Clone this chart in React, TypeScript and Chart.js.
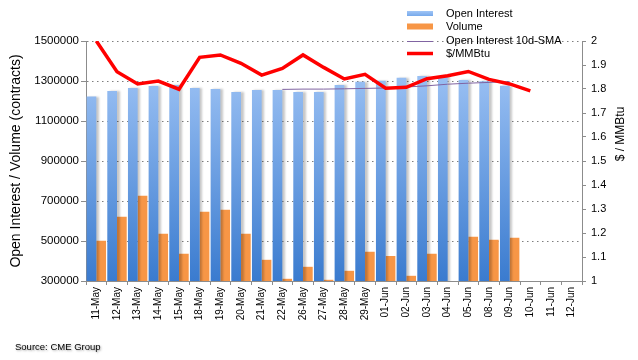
import React, { useEffect, useRef } from "react";
import { Chart, registerables } from "chart.js";

Chart.register(...registerables);

const categories = [
  "11-May", "12-May", "13-May", "14-May", "15-May", "18-May", "19-May", "20-May",
  "21-May", "22-May", "26-May", "27-May", "28-May", "29-May", "01-Jun", "02-Jun",
  "03-Jun", "04-Jun", "05-Jun", "08-Jun", "09-Jun", "10-Jun", "11-Jun", "12-Jun",
];

const openInterest = [
  1222000, 1250000, 1265000, 1275000, 1280000, 1265000, 1260000, 1245000,
  1255000, 1255000, 1245000, 1245000, 1280000, 1296000, 1301000, 1316000,
  1325000, 1325000, 1305000, 1299000, 1276000, null, null, null,
];

const volume = [
  501000, 621000, 726000, 536000, 436000, 646000, 656000, 536000,
  406000, 311000, 371000, 306000, 351000, 446000, 425000, 326000,
  436000, null, 521000, 506000, 516000, null, null, null,
];

const openInterestSma10 = [
  null, null, null, null, null, null, null, null,
  null, 1258000, 1259500, 1259500, 1261000, 1263000, 1265000, 1270000,
  1276000, 1284000, 1289000, 1293000, 1296500, null, null, null,
];

const pricePerMMBtu = [
  2.0, 1.872, 1.821, 1.833, 1.799, 1.932, 1.942, 1.907,
  1.858, 1.886, 1.942, 1.89, 1.842, 1.861, 1.803, 1.807,
  1.843, 1.855, 1.873, 1.84, 1.821, 1.792, null, null,
];

const leftMin = 300000;
const leftMax = 1500000;
const leftStep = 200000;
const rightMin = 1;
const rightMax = 2;
const rightStep = 0.1;

const legendLabels = ["Open Interest", "Volume", "Open Interest 10d-SMA", "$/MMBtu"];
const leftTitle = "Open Interest / Volume (contracts)";
const rightTitle = "$ / MMBtu";
const sourceText = "Source: CME Group";

const FONT = "'Liberation Sans', Arial, Helvetica, sans-serif";
const BLUE_TOP = "#a9cbf9";
const BLUE_BOTTOM = "#3a7bcf";
const ORANGE = "#f79646";
const RED = "#ff0000";
const PURPLE = "#8064a2";
const AXIS_GRAY = "#8c8c8c";

let gradCache: { key: string; grad: CanvasGradient } | null = null;
function blueGradient(chart: any) {
  const area = chart.chartArea;
  if (!area) return "#7fb0ee";
  const key = `${area.top}-${area.bottom}`;
  if (gradCache && gradCache.key === key) return gradCache.grad;
  const g = chart.ctx.createLinearGradient(0, area.top, 0, area.bottom);
  g.addColorStop(0, BLUE_TOP);
  g.addColorStop(1, BLUE_BOTTOM);
  gradCache = { key, grad: g };
  return g;
}

const dottedGridPlugin = {
  id: "dottedGrid",
  beforeDatasetsDraw(chart: any) {
    const ctx = chart.ctx as CanvasRenderingContext2D;
    const scale = chart.scales.y;
    const area = chart.chartArea;
    ctx.save();
    ctx.strokeStyle = "#7f7f7f";
    ctx.lineWidth = 1;
    ctx.setLineDash([1.5, 3.5]);
    scale.ticks.forEach((t: any) => {
      const y = Math.round(scale.getPixelForValue(t.value)) + 0.5;
      if (y > area.bottom - 1) return;
      ctx.beginPath();
      ctx.moveTo(area.left + 1, y);
      ctx.lineTo(area.right, y);
      ctx.stroke();
    });
    ctx.restore();
  },
};

const shadowPlugin = {
  id: "barShadow",
  beforeDatasetDraw(chart: any, args: any) {
    if (args.meta.label === legendLabels[0]) {
      const ctx = chart.ctx;
      ctx.save();
      ctx.shadowColor = "rgba(0,0,0,0.22)";
      ctx.shadowOffsetX = 2.5;
      ctx.shadowOffsetY = 0;
      ctx.shadowBlur = 2;
    }
  },
  afterDatasetDraw(chart: any, args: any) {
    if (args.meta.label === legendLabels[0]) {
      chart.ctx.restore();
    }
  },
};

const decorPlugin = {
  id: "decor",
  afterDraw(chart: any) {
    const ctx = chart.ctx as CanvasRenderingContext2D;
    ctx.save();
    // Legend
    const sx = 407;
    const sw = 26;
    const tx = 446;
    const rows = [13.5, 26.5, 40.5, 54];
    const lg = ctx.createLinearGradient(0, 10, 0, 17);
    lg.addColorStop(0, "#a9cbf9");
    lg.addColorStop(1, "#6ea3e8");
    ctx.fillStyle = lg;
    ctx.fillRect(sx, rows[0] - 2.5, sw, 5);
    ctx.fillStyle = ORANGE;
    ctx.fillRect(sx, rows[1] - 3, sw, 6);
    ctx.strokeStyle = PURPLE;
    ctx.lineWidth = 1;
    ctx.beginPath();
    ctx.moveTo(sx, rows[2] + 1);
    ctx.lineTo(sx + sw, rows[2] + 1);
    ctx.stroke();
    ctx.strokeStyle = RED;
    ctx.lineWidth = 3.5;
    ctx.beginPath();
    ctx.moveTo(sx, rows[3] - 0.5);
    ctx.lineTo(sx + sw, rows[3] - 0.5);
    ctx.stroke();
    ctx.fillStyle = "#000";
    ctx.font = `11px ${FONT}`;
    ctx.textAlign = "left";
    ctx.textBaseline = "middle";
    legendLabels.forEach((t, i) => ctx.fillText(t, tx, rows[i]));

    // Right axis title (reads bottom to top)
    ctx.save();
    ctx.translate(621, 134);
    ctx.rotate(-Math.PI / 2);
    ctx.font = `12px ${FONT}`;
    ctx.textAlign = "center";
    ctx.textBaseline = "middle";
    ctx.fillStyle = "#000";
    ctx.fillText(rightTitle, 0, 0);
    ctx.restore();

    // Source
    ctx.font = `9.5px ${FONT}`;
    ctx.textAlign = "left";
    ctx.textBaseline = "middle";
    ctx.shadowColor = "rgba(0,0,0,0.35)";
    ctx.shadowBlur = 2;
    ctx.shadowOffsetX = 1;
    ctx.shadowOffsetY = 1;
    ctx.fillStyle = "#000";
    ctx.fillText(sourceText, 15, 347);
    ctx.restore();
  },
};

export default function App() {
  const canvasRef = useRef<HTMLCanvasElement | null>(null);

  useEffect(() => {
    const canvas = canvasRef.current;
    if (!canvas) return;
    const chart = new Chart(canvas, {
      type: "bar",
      data: {
        labels: categories,
        datasets: [
          {
            type: "line",
            label: legendLabels[3],
            data: pricePerMMBtu,
            yAxisID: "y1",
            borderColor: RED,
            backgroundColor: RED,
            borderWidth: 3.5,
            pointRadius: 0,
            tension: 0,
            order: 0,
          } as any,
          {
            type: "line",
            label: legendLabels[2],
            data: openInterestSma10,
            yAxisID: "y",
            borderColor: PURPLE,
            backgroundColor: PURPLE,
            borderWidth: 1,
            pointRadius: 0,
            tension: 0,
            order: 0,
          } as any,
          {
            type: "bar",
            label: legendLabels[0],
            data: openInterest,
            yAxisID: "y",
            backgroundColor: (c: any) => blueGradient(c.chart),
            borderWidth: 0,
            categoryPercentage: 0.94,
            barPercentage: 1,
            order: 1,
          } as any,
          {
            type: "bar",
            label: legendLabels[1],
            data: volume,
            yAxisID: "y",
            backgroundColor: ORANGE,
            borderWidth: 0,
            categoryPercentage: 0.94,
            barPercentage: 1,
            order: 1,
          } as any,
        ],
      },
      options: {
        responsive: false,
        animation: false,
        devicePixelRatio: 1,
        layout: { padding: { top: 41, left: 0, right: 0, bottom: 0 } },
        plugins: {
          legend: { display: false },
          tooltip: { enabled: false },
        },
        scales: {
          x: {
            type: "category",
            offset: true,
            grid: {
              offset: true,
              drawOnChartArea: false,
              drawTicks: true,
              tickLength: 4,
              tickColor: AXIS_GRAY,
            },
            border: { color: AXIS_GRAY, width: 1 },
            ticks: {
              autoSkip: false,
              maxRotation: 90,
              minRotation: 90,
              padding: 2,
              color: "#000",
              font: { family: FONT, size: 10 },
            },
            afterFit: (s: any) => {
              s.height = 79;
            },
          },
          y: {
            type: "linear",
            position: "left",
            min: leftMin,
            max: leftMax,
            grid: {
              drawOnChartArea: false,
              drawTicks: true,
              tickLength: 5,
              tickColor: AXIS_GRAY,
            },
            border: { color: AXIS_GRAY, width: 1 },
            ticks: {
              stepSize: leftStep,
              padding: 2,
              color: "#000",
              font: { family: FONT, size: 11.5 },
              callback: (v: any) => String(v),
            },
            title: {
              display: true,
              text: leftTitle,
              color: "#000",
              font: { family: FONT, size: 14 },
              padding: { top: 8, bottom: 0 },
            },
            afterFit: (s: any) => {
              s.width = 86;
            },
          },
          y1: {
            type: "linear",
            position: "right",
            min: rightMin,
            max: rightMax,
            grid: {
              drawOnChartArea: false,
              drawTicks: true,
              tickLength: 4,
              tickColor: AXIS_GRAY,
            },
            border: { color: AXIS_GRAY, width: 1 },
            ticks: {
              stepSize: rightStep,
              padding: 5,
              color: "#000",
              font: { family: FONT, size: 11 },
              callback: (v: any) => String(Number(Number(v).toFixed(1))),
            },
            afterFit: (s: any) => {
              s.width = 56;
            },
          },
        },
      },
      plugins: [dottedGridPlugin, shadowPlugin, decorPlugin],
    } as any);
    return () => chart.destroy();
  }, []);

  return (
    <div
      style={{
        position: "fixed",
        left: 0,
        top: 0,
        width: 638,
        height: 360,
        background: "#ffffff",
      }}
    >
      <canvas ref={canvasRef} width={638} height={360} style={{ display: "block" }} />
    </div>
  );
}
